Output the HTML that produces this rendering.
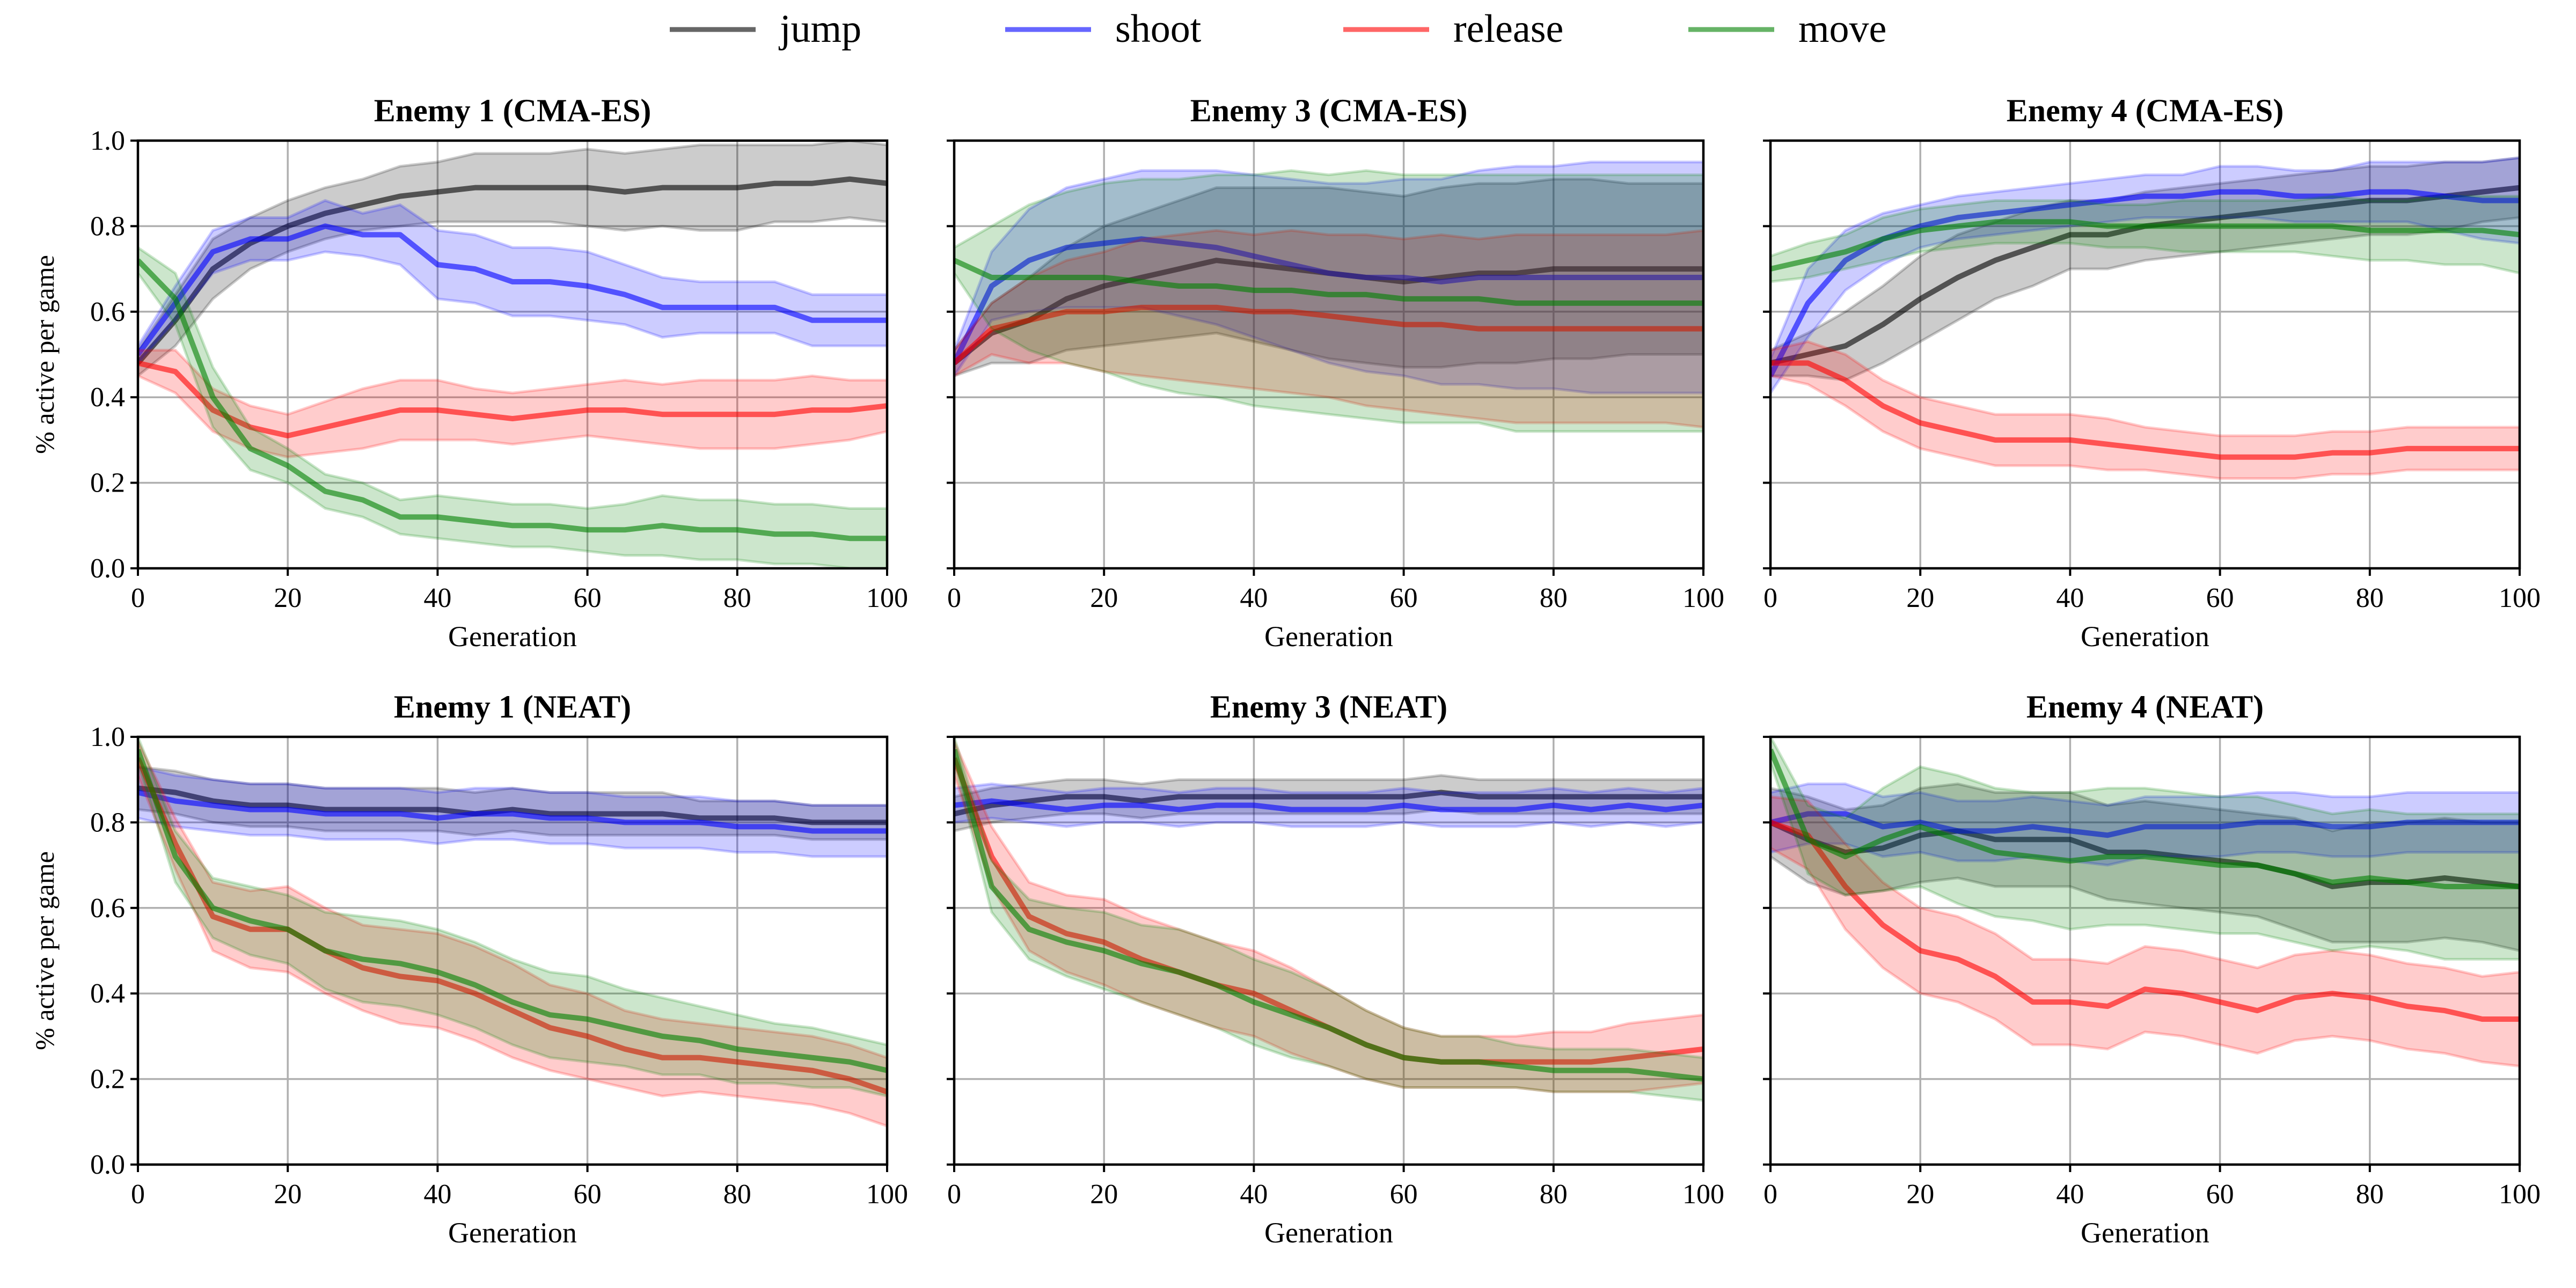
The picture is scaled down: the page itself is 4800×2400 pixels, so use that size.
<!DOCTYPE html>
<html><head><meta charset="utf-8"><style>
html,body{margin:0;padding:0;background:#fff;}
svg{display:block;font-family:"Liberation Serif",serif;}
</style></head><body>
<svg id="fig" width="4800" height="2400" viewBox="0 0 4800 2400" xmlns="http://www.w3.org/2000/svg">
<rect width="4800" height="2400" fill="#fff"/>
<g id="legend"></g>
<g id="panels"></g>
</svg>
<script>
const gens = [0,5,10,15,20,25,30,35,40,45,50,55,60,65,70,75,80,85,90,95,100];
const xTicks = [0,20,40,60,80,100];
const yTicks = [0.0,0.2,0.4,0.6,0.8,1.0];
const seriesNames = ["jump","shoot","release","move"];
const titles = ["Enemy 1 (CMA-ES)","Enemy 3 (CMA-ES)","Enemy 4 (CMA-ES)","Enemy 1 (NEAT)","Enemy 3 (NEAT)","Enemy 4 (NEAT)"];

// Panel 1: Enemy 1 CMA-ES
const p1JumpMean=[0.48,0.58,0.70,0.76,0.80,0.83,0.85,0.87,0.88,0.89,0.89,0.89,0.89,0.88,0.89,0.89,0.89,0.90,0.90,0.91,0.90];
const p1JumpSd=[0.03,0.06,0.07,0.06,0.06,0.06,0.06,0.07,0.07,0.08,0.08,0.08,0.09,0.09,0.09,0.10,0.10,0.09,0.09,0.09,0.09];
const p1ShootMean=[0.50,0.62,0.74,0.77,0.77,0.80,0.78,0.78,0.71,0.70,0.67,0.67,0.66,0.64,0.61,0.61,0.61,0.61,0.58,0.58,0.58];
const p1ShootSd=[0.02,0.04,0.05,0.05,0.05,0.06,0.05,0.07,0.08,0.08,0.08,0.08,0.08,0.07,0.07,0.06,0.06,0.06,0.06,0.06,0.06];
const p1ReleaseMean=[0.48,0.46,0.37,0.33,0.31,0.33,0.35,0.37,0.37,0.36,0.35,0.36,0.37,0.37,0.36,0.36,0.36,0.36,0.37,0.37,0.38];
const p1ReleaseSd=[0.03,0.05,0.05,0.05,0.05,0.06,0.07,0.07,0.07,0.06,0.06,0.06,0.06,0.07,0.07,0.08,0.08,0.08,0.08,0.07,0.06];
const p1MoveMean=[0.72,0.63,0.40,0.28,0.24,0.18,0.16,0.12,0.12,0.11,0.10,0.10,0.09,0.09,0.10,0.09,0.09,0.08,0.08,0.07,0.07];
const p1MoveSd=[0.03,0.06,0.07,0.05,0.04,0.04,0.04,0.04,0.05,0.05,0.05,0.05,0.05,0.06,0.07,0.07,0.07,0.07,0.07,0.07,0.07];
// Panel 2: Enemy 3 CMA-ES
const p2JumpMean=[0.48,0.55,0.58,0.63,0.66,0.68,0.70,0.72,0.71,0.70,0.69,0.68,0.67,0.68,0.69,0.69,0.70,0.70,0.70,0.70,0.70];
const p2JumpSd=[0.03,0.07,0.10,0.12,0.14,0.15,0.16,0.17,0.18,0.19,0.20,0.20,0.20,0.21,0.21,0.21,0.21,0.21,0.20,0.20,0.20];
const p2ShootMean=[0.48,0.66,0.72,0.75,0.76,0.77,0.76,0.75,0.73,0.71,0.69,0.68,0.68,0.67,0.68,0.68,0.68,0.68,0.68,0.68,0.68];
const p2ShootSd=[0.03,0.08,0.12,0.14,0.15,0.16,0.17,0.18,0.19,0.20,0.21,0.22,0.23,0.24,0.25,0.26,0.26,0.27,0.27,0.27,0.27];
const p2ReleaseMean=[0.48,0.56,0.58,0.60,0.60,0.61,0.61,0.61,0.60,0.60,0.59,0.58,0.57,0.57,0.56,0.56,0.56,0.56,0.56,0.56,0.56];
const p2ReleaseSd=[0.03,0.06,0.10,0.12,0.14,0.16,0.17,0.18,0.18,0.19,0.19,0.20,0.20,0.21,0.21,0.22,0.22,0.22,0.22,0.22,0.23];
const p2MoveMean=[0.72,0.68,0.68,0.68,0.68,0.67,0.66,0.66,0.65,0.65,0.64,0.64,0.63,0.63,0.63,0.62,0.62,0.62,0.62,0.62,0.62];
const p2MoveSd=[0.03,0.12,0.17,0.20,0.22,0.24,0.25,0.26,0.27,0.28,0.28,0.29,0.29,0.29,0.29,0.30,0.30,0.30,0.30,0.30,0.30];
// Panel 3: Enemy 4 CMA-ES
const p3JumpMean=[0.48,0.50,0.52,0.57,0.63,0.68,0.72,0.75,0.78,0.78,0.80,0.81,0.82,0.83,0.84,0.85,0.86,0.86,0.87,0.88,0.89];
const p3JumpSd=[0.03,0.05,0.08,0.09,0.10,0.10,0.09,0.09,0.08,0.08,0.08,0.08,0.08,0.08,0.08,0.08,0.08,0.08,0.08,0.07,0.07];
const p3ShootMean=[0.45,0.62,0.72,0.77,0.80,0.82,0.83,0.84,0.85,0.86,0.87,0.87,0.88,0.88,0.87,0.87,0.88,0.88,0.87,0.86,0.86];
const p3ShootSd=[0.04,0.08,0.07,0.06,0.05,0.05,0.05,0.05,0.05,0.05,0.05,0.05,0.06,0.06,0.06,0.06,0.07,0.07,0.08,0.09,0.10];
const p3ReleaseMean=[0.48,0.48,0.44,0.38,0.34,0.32,0.30,0.30,0.30,0.29,0.28,0.27,0.26,0.26,0.26,0.27,0.27,0.28,0.28,0.28,0.28];
const p3ReleaseSd=[0.03,0.05,0.06,0.06,0.06,0.06,0.06,0.06,0.06,0.06,0.05,0.05,0.05,0.05,0.05,0.05,0.05,0.05,0.05,0.05,0.05];
const p3MoveMean=[0.70,0.72,0.74,0.77,0.79,0.80,0.81,0.81,0.81,0.80,0.80,0.80,0.80,0.80,0.80,0.80,0.79,0.79,0.79,0.79,0.78];
const p3MoveSd=[0.03,0.04,0.04,0.05,0.05,0.05,0.05,0.05,0.05,0.05,0.05,0.06,0.06,0.06,0.06,0.07,0.07,0.07,0.08,0.08,0.09];
// Panel 4: Enemy 1 NEAT
const p4JumpMean=[0.88,0.87,0.85,0.84,0.84,0.83,0.83,0.83,0.83,0.82,0.83,0.82,0.82,0.82,0.82,0.81,0.81,0.81,0.80,0.80,0.80];
const p4JumpSd=[0.05,0.05,0.05,0.05,0.05,0.05,0.05,0.05,0.05,0.05,0.05,0.05,0.05,0.05,0.05,0.04,0.04,0.04,0.04,0.04,0.04];
const p4ShootMean=[0.87,0.85,0.84,0.83,0.83,0.82,0.82,0.82,0.81,0.82,0.82,0.81,0.81,0.80,0.80,0.80,0.79,0.79,0.78,0.78,0.78];
const p4ShootSd=[0.06,0.06,0.06,0.06,0.06,0.06,0.06,0.06,0.06,0.06,0.06,0.06,0.06,0.06,0.06,0.06,0.06,0.06,0.06,0.06,0.06];
const p4ReleaseMean=[0.95,0.75,0.58,0.55,0.55,0.50,0.46,0.44,0.43,0.40,0.36,0.32,0.30,0.27,0.25,0.25,0.24,0.23,0.22,0.20,0.17];
const p4ReleaseSd=[0.04,0.06,0.08,0.09,0.10,0.10,0.10,0.11,0.11,0.11,0.11,0.10,0.10,0.09,0.09,0.08,0.08,0.08,0.08,0.08,0.08];
const p4MoveMean=[0.97,0.72,0.60,0.57,0.55,0.50,0.48,0.47,0.45,0.42,0.38,0.35,0.34,0.32,0.30,0.29,0.27,0.26,0.25,0.24,0.22];
const p4MoveSd=[0.03,0.06,0.07,0.08,0.08,0.09,0.10,0.10,0.10,0.10,0.10,0.10,0.10,0.09,0.09,0.08,0.08,0.07,0.07,0.06,0.06];
// Panel 5: Enemy 3 NEAT
const p5JumpMean=[0.82,0.84,0.85,0.86,0.86,0.85,0.86,0.86,0.86,0.86,0.86,0.86,0.86,0.87,0.86,0.86,0.86,0.86,0.86,0.86,0.86];
const p5JumpSd=[0.04,0.04,0.04,0.04,0.04,0.04,0.04,0.04,0.04,0.04,0.04,0.04,0.04,0.04,0.04,0.04,0.04,0.04,0.04,0.04,0.04];
const p5ShootMean=[0.84,0.85,0.84,0.83,0.84,0.84,0.83,0.84,0.84,0.83,0.83,0.83,0.84,0.83,0.83,0.83,0.84,0.83,0.84,0.83,0.84];
const p5ShootSd=[0.04,0.04,0.04,0.04,0.04,0.04,0.04,0.04,0.04,0.04,0.04,0.04,0.04,0.04,0.04,0.04,0.04,0.04,0.04,0.04,0.04];
const p5ReleaseMean=[0.95,0.72,0.58,0.54,0.52,0.48,0.45,0.42,0.40,0.36,0.32,0.28,0.25,0.24,0.24,0.24,0.24,0.24,0.25,0.26,0.27];
const p5ReleaseSd=[0.04,0.07,0.08,0.09,0.10,0.10,0.10,0.10,0.10,0.10,0.09,0.08,0.07,0.06,0.06,0.06,0.07,0.07,0.08,0.08,0.08];
const p5MoveMean=[0.97,0.65,0.55,0.52,0.50,0.47,0.45,0.42,0.38,0.35,0.32,0.28,0.25,0.24,0.24,0.23,0.22,0.22,0.22,0.21,0.20];
const p5MoveSd=[0.03,0.06,0.07,0.08,0.09,0.09,0.10,0.10,0.10,0.10,0.09,0.08,0.07,0.06,0.06,0.05,0.05,0.05,0.05,0.05,0.05];
// Panel 6: Enemy 4 NEAT
const p6JumpMean=[0.80,0.76,0.73,0.74,0.77,0.78,0.76,0.76,0.76,0.73,0.73,0.72,0.71,0.70,0.68,0.65,0.66,0.66,0.67,0.66,0.65];
const p6JumpSd=[0.08,0.10,0.10,0.10,0.11,0.11,0.11,0.11,0.11,0.11,0.12,0.12,0.12,0.12,0.13,0.13,0.14,0.14,0.14,0.14,0.15];
const p6ShootMean=[0.80,0.82,0.82,0.79,0.80,0.78,0.78,0.79,0.78,0.77,0.79,0.79,0.79,0.80,0.80,0.79,0.79,0.80,0.80,0.80,0.80];
const p6ShootSd=[0.07,0.07,0.07,0.07,0.07,0.07,0.07,0.07,0.07,0.07,0.07,0.07,0.07,0.07,0.07,0.07,0.07,0.07,0.07,0.07,0.07];
const p6ReleaseMean=[0.80,0.77,0.65,0.56,0.50,0.48,0.44,0.38,0.38,0.37,0.41,0.40,0.38,0.36,0.39,0.40,0.39,0.37,0.36,0.34,0.34];
const p6ReleaseSd=[0.06,0.08,0.10,0.10,0.10,0.10,0.10,0.10,0.10,0.10,0.10,0.10,0.10,0.10,0.10,0.10,0.10,0.10,0.10,0.10,0.11];
const p6MoveMean=[0.97,0.76,0.72,0.76,0.79,0.76,0.73,0.72,0.71,0.72,0.72,0.71,0.70,0.70,0.68,0.66,0.67,0.66,0.65,0.65,0.65];
const p6MoveSd=[0.03,0.08,0.09,0.12,0.14,0.15,0.15,0.15,0.16,0.16,0.16,0.16,0.16,0.16,0.16,0.16,0.16,0.16,0.17,0.17,0.17];

const panelData = [
 [[p1JumpMean,p1JumpSd],[p1ShootMean,p1ShootSd],[p1ReleaseMean,p1ReleaseSd],[p1MoveMean,p1MoveSd]],
 [[p2JumpMean,p2JumpSd],[p2ShootMean,p2ShootSd],[p2ReleaseMean,p2ReleaseSd],[p2MoveMean,p2MoveSd]],
 [[p3JumpMean,p3JumpSd],[p3ShootMean,p3ShootSd],[p3ReleaseMean,p3ReleaseSd],[p3MoveMean,p3MoveSd]],
 [[p4JumpMean,p4JumpSd],[p4ShootMean,p4ShootSd],[p4ReleaseMean,p4ReleaseSd],[p4MoveMean,p4MoveSd]],
 [[p5JumpMean,p5JumpSd],[p5ShootMean,p5ShootSd],[p5ReleaseMean,p5ReleaseSd],[p5MoveMean,p5MoveSd]],
 [[p6JumpMean,p6JumpSd],[p6ShootMean,p6ShootSd],[p6ReleaseMean,p6ReleaseSd],[p6MoveMean,p6MoveSd]]
];

const colors = ["#000000","#0000ff","#ff0000","#008000"];
const NS = "http://www.w3.org/2000/svg";
function mk(tag, attrs, parent){ const e=document.createElementNS(NS,tag); for(const k in attrs) e.setAttribute(k,attrs[k]); if(parent) parent.appendChild(e); return e; }

const colX = [257,1778,3299], rowY = [262,1373];
const W = 1396, H = 797;

// Legend
const legend = document.getElementById('legend');
const legX = [1248,1873,2503,3146];
seriesNames.forEach((n,i)=>{
  const g = mk('g',{},legend);
  
  
  const ln = mk('line',{x1:legX[i],x2:legX[i]+160,y1:55,y2:55,stroke:colors[i],'stroke-width':9,'stroke-opacity':0.6},g);
  
  
  const t = mk('text',{x:legX[i]+205,y:78,'font-size':74,fill:'#000'},g);
  t.textContent = n;
  
  
});

const panels = document.getElementById('panels');
panelData.forEach((series,p)=>{
  const x0 = colX[p%3], y0 = rowY[Math.floor(p/3)];
  const sx = v => x0 + v/100*W;
  const sy = v => y0 + H - v*H;
  const g = mk('g',{},panels);
  
  
  const cid = 'clip'+p;
  const cp = mk('clipPath',{id:cid},g);
  mk('rect',{x:x0,y:y0,width:W,height:H},cp);
  const grid = mk('g',{stroke:'#b0b0b0','stroke-width':3.5},g);
  
  
  xTicks.forEach(v=>mk('line',{x1:sx(v),x2:sx(v),y1:y0,y2:y0+H},grid));
  yTicks.forEach(v=>mk('line',{x1:x0,x2:x0+W,y1:sy(v),y2:sy(v)},grid));
  const plot = mk('g',{'clip-path':'url(#'+cid+')'},g);
  series.forEach((s,i)=>{
    const [mean,sd] = s;
    let up = gens.map((gv,k)=>sx(gv)+','+sy(mean[k]+sd[k]));
    let lo = gens.map((gv,k)=>sx(gv)+','+sy(mean[k]-sd[k])).reverse();
    const band = mk('polygon',{points:up.concat(lo).join(' '),fill:colors[i],'fill-opacity':0.2,stroke:colors[i],'stroke-opacity':0.2,'stroke-width':5},plot);
    
    
    const line = mk('polyline',{points:gens.map((gv,k)=>sx(gv)+','+sy(mean[k])).join(' '),fill:'none',stroke:colors[i],'stroke-opacity':0.6,'stroke-width':10,'stroke-linejoin':'round'},plot);
    
    
  });
  const sp = mk('rect',{x:x0,y:y0,width:W,height:H,fill:'none',stroke:'#000','stroke-width':4.5},g);
  
  
  const tk = mk('g',{stroke:'#000','stroke-width':4},g);
  xTicks.forEach(v=>mk('line',{x1:sx(v),x2:sx(v),y1:y0+H,y2:y0+H+14},tk));
  yTicks.forEach(v=>mk('line',{x1:x0-14,x2:x0,y1:sy(v),y2:sy(v)},tk));
  xTicks.forEach(v=>{
    const t = mk('text',{x:sx(v),y:y0+H+72,'font-size':52,'text-anchor':'middle'},g);
    t.textContent = v;
    
    
  });
  if(p%3===0){
    yTicks.forEach(v=>{
      const t = mk('text',{x:x0-24,y:sy(v)+17,'font-size':52,'text-anchor':'end'},g);
      t.textContent = v.toFixed(1);
      
      
    });
    const yl = mk('text',{x:0,y:0,'font-size':50,'text-anchor':'middle',transform:'translate(100,'+(y0+H/2)+') rotate(-90)'},g);
    yl.textContent = '% active per game';
    
    
  }
  const xl = mk('text',{x:x0+W/2,y:y0+H+145,'font-size':54,'text-anchor':'middle'},g);
  xl.textContent = 'Generation';
  
  
  const tt = mk('text',{x:x0+W/2,y:y0-36,'font-size':60,'font-weight':'bold','text-anchor':'middle'},g);
  tt.textContent = titles[p];
  
  
});
</script>
</body></html>
